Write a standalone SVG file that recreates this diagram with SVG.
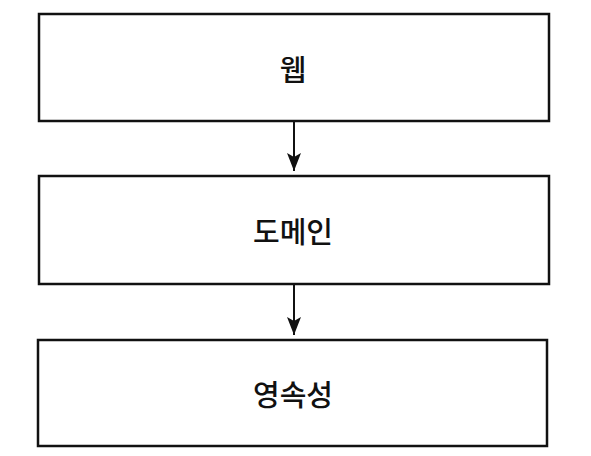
<svg xmlns="http://www.w3.org/2000/svg" width="591" height="456" viewBox="0 0 591 456">
<defs>
<marker id="arr" markerWidth="18" markerHeight="14" refX="18" refY="7" orient="auto" markerUnits="userSpaceOnUse" viewBox="0 0 18 14">
<path d="M0,0 L18,7 L0,14 L4,7 Z" fill="#111"/>
</marker>
<style>
.box{fill:#fff;stroke:#111;stroke-width:2.5}
.lbl{font-family:"Noto Sans CJK KR","Noto Sans",sans-serif;font-size:29px;font-weight:500;fill:#111;text-anchor:middle;dominant-baseline:central}
.edge{stroke:#111;stroke-width:2;fill:none}
</style>
</defs>
<rect width="591" height="456" fill="#fff"/>
<g id="web">
<rect class="box" x="39" y="14" width="510" height="107"/>
<text class="lbl" x="293" y="68">웹</text>
</g>
<g id="domain">
<rect class="box" x="39" y="176" width="510" height="108"/>
<text class="lbl" x="293" y="230">도메인</text>
</g>
<g id="persistence">
<rect class="box" x="38" y="340" width="509" height="106"/>
<text class="lbl" x="293" y="393">영속성</text>
</g>
<g id="connectors">
<line class="edge" x1="294" y1="122" x2="294" y2="171" marker-end="url(#arr)"/>
<line class="edge" x1="294" y1="285" x2="294" y2="335" marker-end="url(#arr)"/>
</g>
</svg>
